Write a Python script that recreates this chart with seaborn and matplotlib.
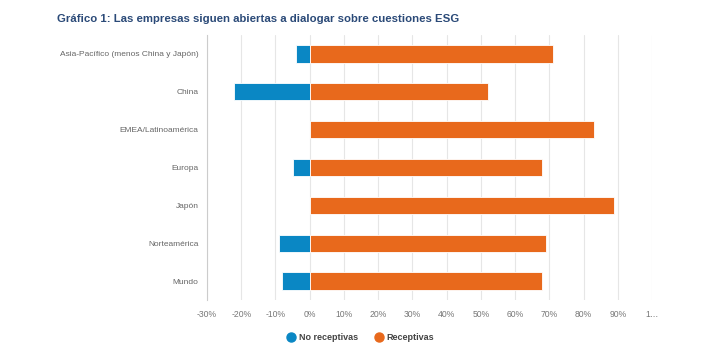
import matplotlib
matplotlib.use('Agg')
import matplotlib.pyplot as plt
from matplotlib.lines import Line2D
import seaborn as sns
import pandas as pd

# datos (porcentajes)
regiones = ['Asia-Pacífico (menos China y Japón)', 'China', 'EMEA/Latinoamérica',
            'Europa', 'Japón', 'Norteamérica', 'Mundo']
no_receptivas = [-4, -22, 0, -5, 0, -9, -8]
receptivas = [71, 52, 83, 68, 89, 69, 68]
xticks = [-30, -20, -10, 0, 10, 20, 30, 40, 50, 60, 70, 80, 90, 100]
xticklabels = ['-30%', '-20%', '-10%', '0%', '10%', '20%', '30%', '40%',
               '50%', '60%', '70%', '80%', '90%', '1…']

AZUL = '#0a87c4'
NARANJA = '#e8691c'

sns.set_theme(style='white')
plt.rcParams['font.family'] = ['Liberation Sans', 'DejaVu Sans']

df = pd.DataFrame({
    'region': regiones * 2,
    'valor': no_receptivas + receptivas,
    'serie': ['No receptivas'] * len(regiones) + ['Receptivas'] * len(regiones),
})

fig = plt.figure(figsize=(7.02, 3.61), dpi=100)
ax = fig.add_axes([207 / 702, 61 / 361, 445 / 702, 265 / 361])

sns.barplot(data=df, y='region', x='valor', hue='serie', dodge=False,
            palette={'No receptivas': AZUL, 'Receptivas': NARANJA},
            saturation=1, width=0.46, orient='h', edgecolor='white', linewidth=0.6,
            legend=False, ax=ax)

ax.set_xlim(-30, 100)
ax.set_xticks(xticks)
ax.set_xticklabels(xticklabels, fontsize=6.2, color='#777777')
ax.tick_params(axis='y', labelsize=6.0, colors='#666666', length=0, pad=6)
ax.tick_params(axis='x', length=0, pad=7)
ax.set_xlabel('')
ax.set_ylabel('')
ax.grid(axis='x', color='#e6e6e6', linewidth=0.8)
ax.set_axisbelow(True)
for s in ['top', 'right', 'bottom']:
    ax.spines[s].set_visible(False)
ax.spines['left'].set_color('#cccccc')
ax.spines['left'].set_linewidth(0.8)

fig.text(57 / 702, 1 - 19 / 361, 'Gráfico 1: Las empresas siguen abiertas a dialogar sobre cuestiones ESG',
         fontsize=8.2, fontweight='bold', color='#2b4a78', va='center', ha='left')

handles = [Line2D([0], [0], marker='o', linestyle='', markersize=6.5, color=AZUL, label='No receptivas'),
           Line2D([0], [0], marker='o', linestyle='', markersize=6.5, color=NARANJA, label='Receptivas')]
leg = fig.legend(handles=handles, loc='center', bbox_to_anchor=(360 / 702, 1 - 338 / 361),
                 ncol=2, frameon=False, fontsize=6.5, handletextpad=0.25, columnspacing=1.7,
                 handlelength=1.2)
for t in leg.get_texts():
    t.set_color('#444444')
    t.set_fontweight('bold')

fig.savefig('out.png', dpi=100)
